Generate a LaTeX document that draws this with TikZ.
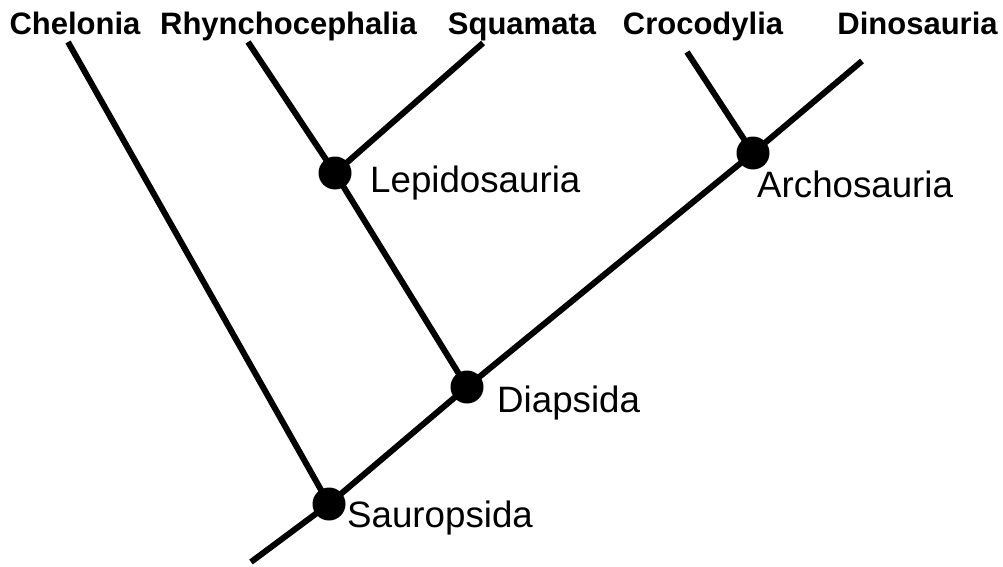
\documentclass[tikz,border=0pt]{standalone}
\usepackage{fontspec}
\setmainfont{Liberation Sans}
\begin{document}
\begin{tikzpicture}[x=1pt,y=-1pt,
  branch/.style={line width=6pt,line cap=butt,line join=round},
  dot/.style={circle,fill=black,inner sep=0pt,minimum size=33pt},
  taxon/.style={font=\fontsize{31}{36}\selectfont\bfseries,inner sep=0pt,anchor=base},
  clade/.style={font=\fontsize{36.7}{42}\selectfont,inner sep=0pt,anchor=base west}]
\useasboundingbox (0,0) rectangle (1003,567);
% branch points
\coordinate (sau) at (329,504);
\coordinate (dia) at (467,387);
\coordinate (arc) at (753,153);
\coordinate (lep) at (335,173);
% tips
\coordinate (root) at (251,562);
\coordinate (tChe) at (68,42);
\coordinate (tRhy) at (248,42);
\coordinate (tSqu) at (483,43);
\coordinate (tCro) at (687,52);
\coordinate (tDin) at (862,61);
% branches
\draw[branch] (root) -- (sau) -- (dia) -- (arc) -- (tDin);
\draw[branch] (tChe) -- (sau);
\draw[branch] (tRhy) -- (lep) -- (dia);
\draw[branch] (tSqu) -- (lep);
\draw[branch] (tCro) -- (arc);
% nodes
\node[dot] (nSau) at (sau) {};
\node[dot] (nDia) at (dia) {};
\node[dot] (nArc) at (arc) {};
\node[dot] (nLep) at (lep) {};
% taxon labels
\node[taxon] (lChe) at (75,35) {Chelonia};
\node[taxon] (lRhy) at (288.5,35) {Rhynchocephalia};
\node[taxon] (lSqu) at (522,35) {Squamata};
\node[taxon] (lCro) at (703,35) {Crocodylia};
\node[taxon] (lDin) at (917.5,35) {Dinosauria};
% clade labels
\node[clade] (cLep) at (370,192) {Lepidosauria};
\node[clade] (cArc) at (757,197) {Archosauria};
\node[clade] (cDia) at (497,412) {Diapsida};
\node[clade] (cSau) at (347,527) {Sauropsida};
\end{tikzpicture}
\end{document}
